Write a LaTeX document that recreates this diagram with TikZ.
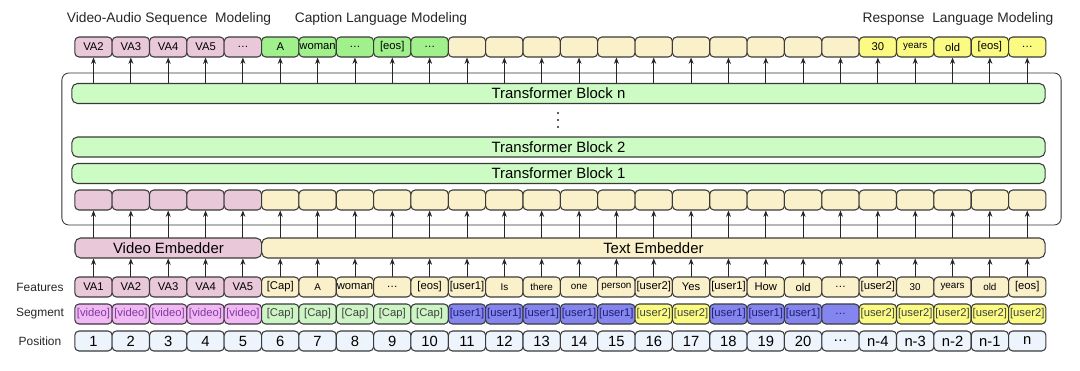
\documentclass[tikz,border=0pt]{standalone}
\usepackage{fontspec}
\setmainfont{Liberation Sans}
\usetikzlibrary{arrows.meta,positioning}
\definecolor{boxline}{HTML}{3A3A3A}
\definecolor{vapink}{HTML}{E9C8DA}
\definecolor{capgreen}{HTML}{A0F08C}
\definecolor{capsoft}{HTML}{CDF5C5}
\definecolor{txtcream}{HTML}{FAF0CA}
\definecolor{respyellow}{HTML}{FBFB84}
\definecolor{segvideo}{HTML}{F2B8F5}
\definecolor{segvideoink}{HTML}{7A3A9A}
\definecolor{userblue}{HTML}{8585F0}
\definecolor{userblueink}{HTML}{1E1E70}
\definecolor{posblue}{HTML}{EEF4FC}
\definecolor{tfgreen}{HTML}{CCFCC4}

\begin{document}
\begin{tikzpicture}[x=0.025cm,y=-0.025cm,line cap=round,line join=round,
  >={Stealth[length=4.5pt,width=3.5pt]},
  tok/.style={draw=boxline,line width=.75pt,rounded corners=3pt,
    minimum width=0.934cm,minimum height=0.5cm,inner sep=0pt,
    font=\fontsize{8}{9}\selectfont},
  sm/.style={font=\fontsize{7}{8}\selectfont},
  vid/.style={fill=vapink},
  capout/.style={fill=capgreen},
  cream/.style={fill=txtcream},
  creamsm/.style={cream,sm},
  resp/.style={fill=respyellow},
  respsm/.style={resp,sm},
  sv/.style={fill=segvideo,text=segvideoink},
  sc/.style={fill=capsoft,text=black!75},
  su/.style={fill=userblue,text=userblueink},
  sr/.style={fill=respyellow,text=black!75},
  posbox/.style={fill=posblue,font=\fontsize{10.5}{12}\selectfont},
  wide/.style={draw=boxline,line width=.75pt,rounded corners=4pt,inner sep=0pt,
    minimum height=0.5cm,font=\fontsize{10.6}{12}\selectfont},
  rowlab/.style={font=\fontsize{8.5}{10}\selectfont,text=black!85},
  ttl/.style={font=\fontsize{9.8}{11}\selectfont,text=black!85},
  arr/.style={->,line width=.6pt,black!85}]
\path[use as bounding box] (0,0) rectangle (1080,370);

% titles
\node[ttl] (ttlva) at (169,19) {Video-Audio Sequence~ Modeling};
\node[ttl] (ttlcap) at (381,19) {Caption Language Modeling};
\node[ttl] (ttlresp) at (958,19) {Response~ Language Modeling};

% transformer
\node[draw=black!80,line width=.6pt,rounded corners=5pt,minimum width=24.975cm,
  minimum height=3.8cm] (trans) at (561.5,149) {};
\node[wide,fill=tfgreen,minimum width=24.325cm] (blkn) at (558.5,93.5) {Transformer Block n};
\foreach \y in {113,120,127}
  \fill[black!85] (558,\y) circle[radius=0.8pt];
\node[wide,fill=tfgreen,minimum width=24.325cm] (blk2) at (558.5,147) {Transformer Block 2};
\node[wide,fill=tfgreen,minimum width=24.325cm] (blk1) at (558.5,173.5) {Transformer Block 1};

% outputs
\foreach \lab/\sty [count=\i, evaluate=\i as \x using {93.5+(\i-1)*37.35}] in
  {VA2/vid,VA3/vid,VA4/vid,VA5/vid,…/vid,
   A/capout,woman/capout,…/capout,{[eos]}/capout,…/capout,
   {}/cream,{}/cream,{}/cream,{}/cream,{}/cream,{}/cream,{}/cream,{}/cream,{}/cream,{}/cream,{}/cream,
   30/resp,years/respsm,old/resp,{[eos]}/resp,…/resp}
  \node[tok,\sty] (out\i) at (\x,47) {\lab};
\foreach \i in {1,...,26}
  \draw[arr] (blkn.north -| out\i) -- (out\i);

% embeddings
\foreach \i [evaluate=\i as \x using {93.5+(\i-1)*37.35}] in {1,...,26}{
  \ifnum\i<6 \def\sty{vid}\else\def\sty{cream}\fi
  \node[tok,\sty] (emb\i) at (\x,200) {};
}
\node[wide,fill=vapink,minimum width=4.67cm] (vemb) at (168.4,248) {Video Embedder};
\node[wide,fill=txtcream,minimum width=19.58cm] (temb) at (653.4,248) {Text Embedder};
\foreach \i in {1,...,5}
  \draw[arr] (vemb.north -| emb\i) -- (emb\i);
\foreach \i in {6,...,26}
  \draw[arr] (temb.north -| emb\i) -- (emb\i);

% features
\node[rowlab] (flab) at (40,287) {Features};
\foreach \lab/\sty [count=\i, evaluate=\i as \x using {93.5+(\i-1)*37.35}] in
  {VA1/vid,VA2/vid,VA3/vid,VA4/vid,VA5/vid,
   {[Cap]}/cream,A/creamsm,woman/cream,…/cream,{[eos]}/cream,
   {[user1]}/cream,Is/creamsm,there/creamsm,one/creamsm,person/creamsm,
   {[user2]}/cream,Yes/cream,{[user1]}/cream,How/cream,old/cream,…/cream,
   {[user2]}/cream,30/creamsm,years/creamsm,old/creamsm,{[eos]}/cream}
  \node[tok,\sty] (feat\i) at (\x,287) {\lab};
\foreach \i in {1,...,5}
  \draw[arr] (feat\i) -- (feat\i |- vemb.south);
\foreach \i in {6,...,26}
  \draw[arr] (feat\i) -- (feat\i |- temb.south);

% segments
\node[rowlab] (slab) at (40,314) {Segment};
\foreach \lab/\sty [count=\i, evaluate=\i as \x using {93.5+(\i-1)*37.35}] in
  {{[video]}/sv,{[video]}/sv,{[video]}/sv,{[video]}/sv,{[video]}/sv,
   {[Cap]}/sc,{[Cap]}/sc,{[Cap]}/sc,{[Cap]}/sc,{[Cap]}/sc,
   {[user1]}/su,{[user1]}/su,{[user1]}/su,{[user1]}/su,{[user1]}/su,
   {[user2]}/sr,{[user2]}/sr,
   {[user1]}/su,{[user1]}/su,{[user1]}/su,…/su,
   {[user2]}/sr,{[user2]}/sr,{[user2]}/sr,{[user2]}/sr,{[user2]}/sr}
  \node[tok,\sty] (seg\i) at (\x,314) {\lab};

% positions
\node[rowlab] (plab) at (40,341) {Position};
\foreach \lab [count=\i, evaluate=\i as \x using {93.5+(\i-1)*37.35}] in
  {1,2,3,4,5,6,7,8,9,10,11,12,13,14,15,16,17,18,19,20,…,n-4,n-3,n-2,n-1,n}
  \node[tok,posbox] (pos\i) at (\x,341) {\lab};
\end{tikzpicture}
\end{document}
